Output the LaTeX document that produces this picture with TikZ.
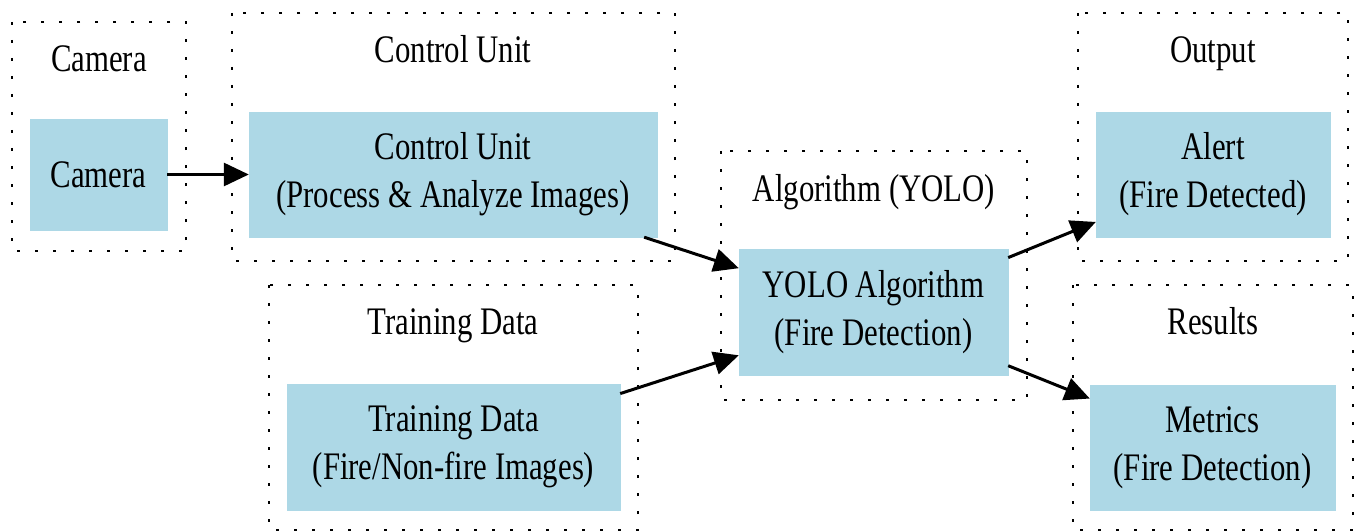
\documentclass[tikz,border=0pt]{standalone}
\usepackage{fontspec}
\newfontfamily\gvfont{Liberation Serif}[FakeStretch=0.79]
\usepackage{tikz}
\usetikzlibrary{arrows.meta}
\definecolor{gvblue}{HTML}{ADD8E6}
\tikzset{
  cluster/.style={line width=2.6pt, dash pattern=on 2.6pt off 15.4pt},
  box/.style={fill=gvblue, draw=gvblue, inner sep=0pt, align=center,
    font=\gvfont\fontsize{39}{48}\selectfont, text=black},
  title/.style={anchor=base, inner sep=0pt, font=\gvfont\fontsize{39}{48}\selectfont},
  flow/.style={line width=3pt, -{Triangle[length=25pt,width=23pt]}},
  }

\begin{document}
\begin{tikzpicture}[x=1pt,y=-1pt]
            \useasboundingbox (0,0) rectangle (1360,532);

            % Clusters
            \draw[cluster] (12,22)   rectangle (186,251);
            \draw[cluster] (232,13)  rectangle (675,261);
            \draw[cluster] (721,151) rectangle (1027,400);
            \draw[cluster] (1078,13) rectangle (1348,261);
            \draw[cluster] (269,285) rectangle (638,530);
            \draw[cluster] (1073,285) rectangle (1353,530);

            % Cluster titles
            \node[title] (camt) at (99,72)    {Camera};
            \node[title] (ctlt) at (453,63)   {Control Unit};
            \node[title] (algt) at (874,201)  {Algorithm (YOLO)};
            \node[title] (outt) at (1213,63)  {Output};
            \node[title] (trnt) at (453,334)  {Training Data};
            \node[title] (rest) at (1213,334) {Results};

            % Nodes
            \node[box, minimum width=137pt, minimum height=111pt] (cam)   at (98.5,174.5)  {Camera};
            \node[box, minimum width=408pt, minimum height=125pt] (ctl)   at (453,174.5)   {Control Unit\\(Process \& Analyze Images)};
            \node[box, minimum width=269pt, minimum height=126pt] (yolo)  at (873.5,312)   {YOLO Algorithm\\(Fire Detection)};
            \node[box, minimum width=234pt, minimum height=125pt] (alert) at (1213,174.5)  {Alert\\(Fire Detected)};
            \node[box, minimum width=333pt, minimum height=126pt] (trn)   at (453.5,447)   {Training Data\\(Fire/Non-fire Images)};
            \node[box, minimum width=245pt, minimum height=125pt] (met)   at (1212.5,447.5) {Metrics\\(Fire Detection)};

            % Arrows
            \draw[flow] (cam) -- (ctl);
            \draw[flow] (ctl) -- (yolo);
            \draw[flow] (trn) -- (yolo);
            \draw[flow] (yolo) -- (alert);
            \draw[flow] (yolo) -- (met);
        \end{tikzpicture}
\end{document}
